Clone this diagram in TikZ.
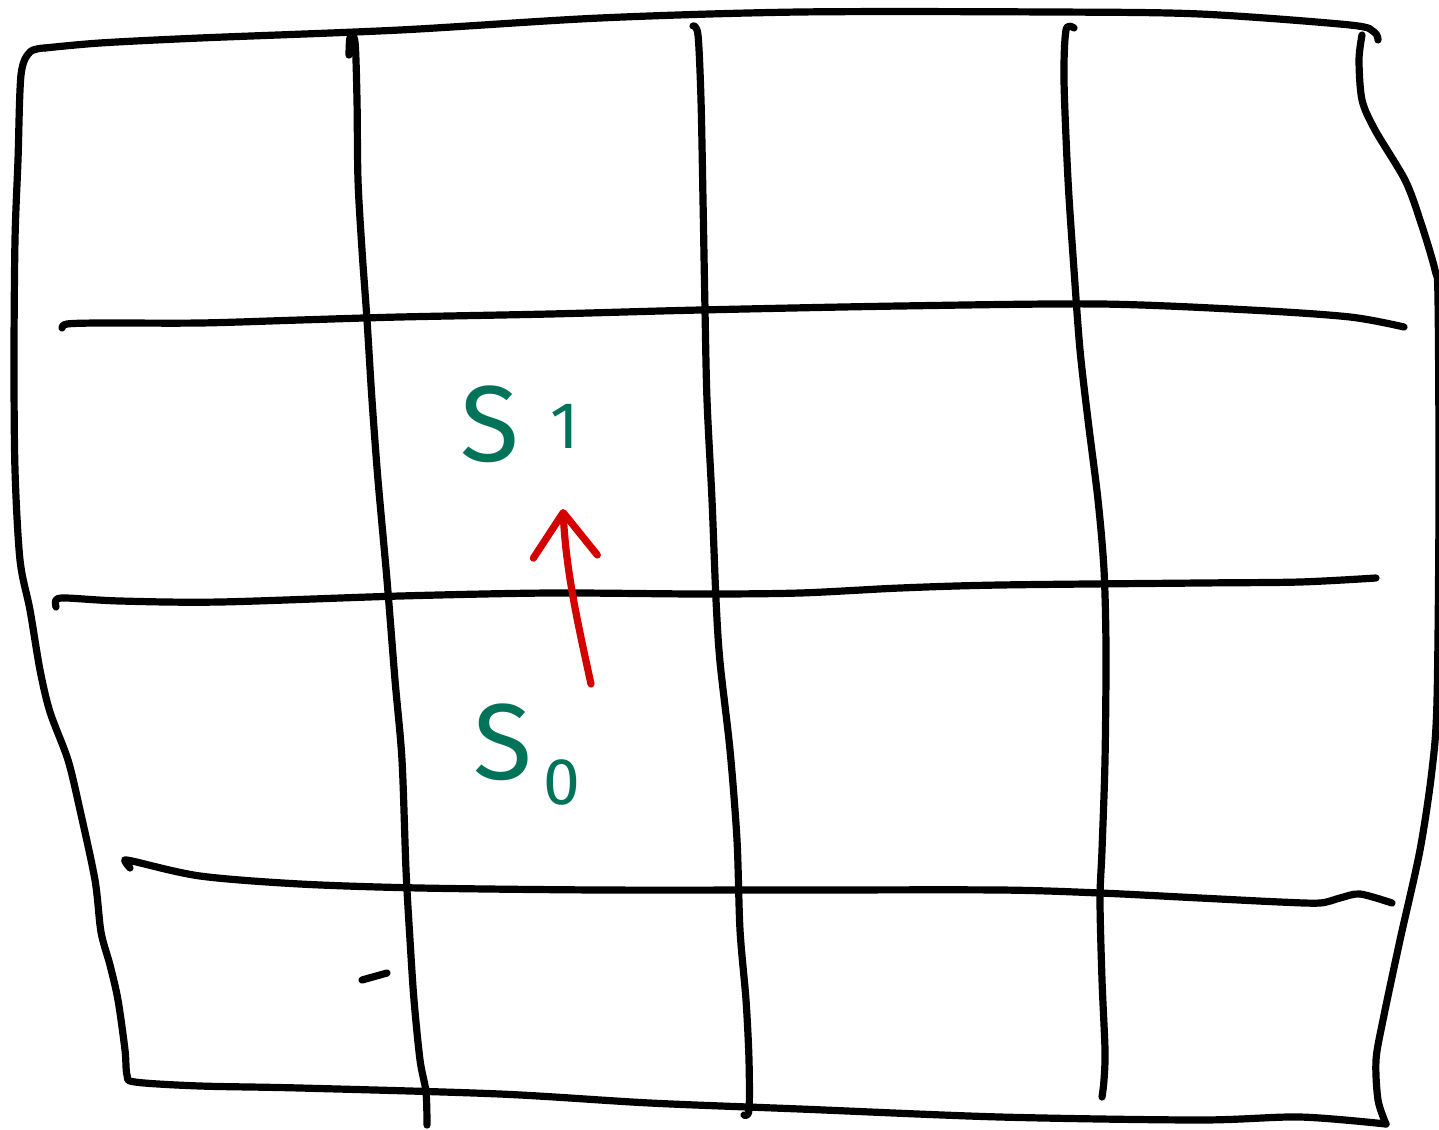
\documentclass[tikz,border=0pt]{standalone}
\usepackage{fontspec}
\setmainfont{Fira Sans}
\usetikzlibrary{arrows.meta}
\definecolor{inkgreen}{RGB}{0,115,88}
\definecolor{inkred}{RGB}{212,0,0}
\tikzset{
  ink/.style={line width=3.6pt, line cap=round, line join=round, black},
  lbl/.style={text=inkgreen, inner sep=0pt, font=\fontsize{54}{54}\selectfont},
  sublbl/.style={text=inkgreen, inner sep=0pt, font=\fontsize{33}{33}\selectfont},
  redarrow/.style={line width=3.6pt, line cap=round, line join=round, inkred,
    -{Straight Barb[length=22pt, width=32pt, line width=3.6pt, round]}}
}
\begin{document}
\begin{tikzpicture}[x=0.5pt, y=-0.5pt]
\useasboundingbox (0,0) rectangle (1439,1129);
% outer border
\draw[ink] plot[smooth, tension=0.5] coordinates {
  (45,48) (30,52) (21,75) (18,160) (15,240) (14,360) (15,470) (20,560) (30,610)
  (40,670) (50,712) (68,760) (80,810) (95,880) (101,932) (110,965) (118,1000)
  (125,1050) (127,1075) (135,1082) (200,1086) (300,1088) (500,1094) (650,1103)
  (800,1109) (1000,1117) (1200,1120) (1300,1117) (1386,1124)};
\draw[ink] plot[smooth, tension=0.5] coordinates {
  (1386,1124) (1378,1100) (1376,1060) (1383,1020) (1400,940) (1420,850)
  (1432,770) (1437,700) (1439,500) (1438,300) (1435,270) (1420,220) (1405,180)
  (1375,130) (1362,100) (1359,60) (1362,35)};
\draw[ink] plot[smooth, tension=0.5] coordinates {
  (1378,40) (1374,32) (1350,25) (1200,14) (1050,12) (800,12) (600,18) (400,30)
  (200,38) (100,43) (45,48)};
% vertical lines
\draw[ink] plot[smooth, tension=0.5] coordinates {
  (349,55) (350,38) (355,42) (357,100) (358,180) (362,250) (367,320) (372,400)
  (378,480) (387,580) (395,680) (402,760) (406,870) (410,940) (414,1000)
  (420,1060) (426,1092) (427,1125)};
\draw[ink] plot[smooth, tension=0.5] coordinates {
  (693,26) (698,35) (701,100) (703,200) (705,310) (707,400) (712,500) (716,600)
  (720,662) (730,750) (737,840) (740,930) (746,1000) (749,1060) (749,1110)
  (744,1115)};
\draw[ink] plot[smooth, tension=0.5] coordinates {
  (1074,28) (1066,30) (1064,80) (1068,180) (1074,270) (1080,350) (1088,420)
  (1098,500) (1104,570) (1106,650) (1105,760) (1102,850) (1100,900) (1102,980)
  (1105,1050) (1104,1080) (1102,1097)};
% horizontal lines
\draw[ink] plot[smooth, tension=0.5] coordinates {
  (62,328) (67,324) (100,323) (200,323) (300,320) (400,317) (550,314) (700,310)
  (900,306) (1100,304) (1250,310) (1350,317) (1404,327)};
\draw[ink] plot[smooth, tension=0.5] coordinates {
  (56,607) (56,600) (66,598) (120,601) (220,602) (400,596) (550,593) (700,594)
  (800,593) (900,588) (1000,585) (1200,583) (1300,582) (1376,578)};
\draw[ink] plot[smooth, tension=0.5] coordinates {
  (130,868) (125,861) (132,861) (200,876) (300,884) (420,888) (600,890)
  (800,890) (1000,890) (1100,893) (1200,898) (1280,902) (1320,903) (1340,898)
  (1360,894) (1392,903)};
% small tick
\draw[ink] (362,980) -- (387,973);
% labels
\node[lbl] (s1) at (490,424) {S};
\node[sublbl] (s1sub) at (565,426) {1};
\node[lbl] (s0) at (503,742) {S};
\node[sublbl] (s0sub) at (562,782) {0};
% arrow
\coordinate (a0) at (591,684);
\coordinate (a1) at (563,509);
\draw[redarrow] (a0) .. controls (577,620) and (566,570) .. (a1);
\end{tikzpicture}
\end{document}
